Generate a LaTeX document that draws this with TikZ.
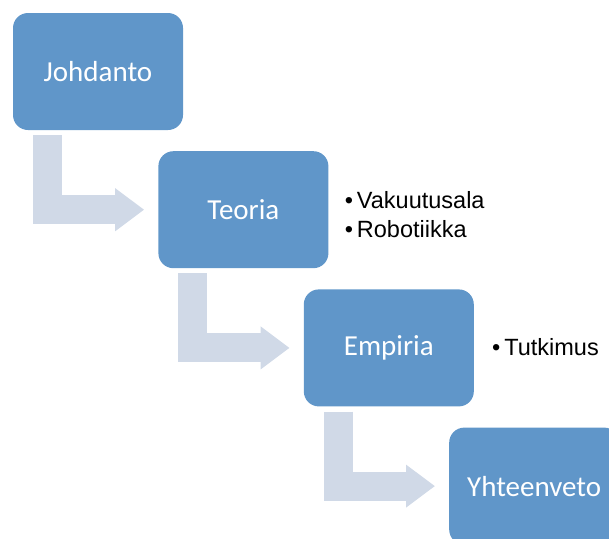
\documentclass[tikz,border=0pt]{standalone}
\usepackage{fontspec}
\setmainfont{Carlito}
\newfontfamily\listfont{Liberation Sans}
\usetikzlibrary{arrows.meta}
\definecolor{boxblue}{HTML}{6096C9}
\definecolor{arrowgrey}{HTML}{D0D9E7}

\begin{document}
\begin{tikzpicture}[x=1pt,y=-1pt,
    stage/.style={fill=boxblue,rounded corners=15pt,minimum width=170pt,minimum height=117pt,text=white,font=\fontsize{29}{34}\selectfont},
    flow/.style={draw=arrowgrey,line width=29pt,-{Triangle[length=29pt,width=41pt]}},
    bullets/.style={anchor=west,align=left,inner sep=0pt,font=\listfont\fontsize{23.5}{29}\selectfont}]
  \useasboundingbox (0,0) rectangle (609,538);
  \foreach[count=\i,evaluate={98+(\i-1)*145.4} as \x,evaluate={71.5+(\i-1)*138.2} as \y] \t in {Johdanto,Teoria,Empiria,Yhteenveto} {
    \node[stage] (s\i) at (\x,\y) {\t};
  }
  \foreach[evaluate={int(\i+1)} as \j] \i in {1,2,3} {
    \draw[flow] ([xshift=34.5pt,yshift=-5pt]s\i.south west) |- ([xshift=-14pt]s\j.west);
  }

  \node[bullets] (teorialist) at ([xshift=16pt,yshift=-5pt]s2.east) {•\,Vakuutusala\\•\,Robotiikka};
  \node[bullets] (empirialist) at ([xshift=18pt,yshift=1pt]s3.east) {•\,Tutkimus};
\end{tikzpicture}
\end{document}
